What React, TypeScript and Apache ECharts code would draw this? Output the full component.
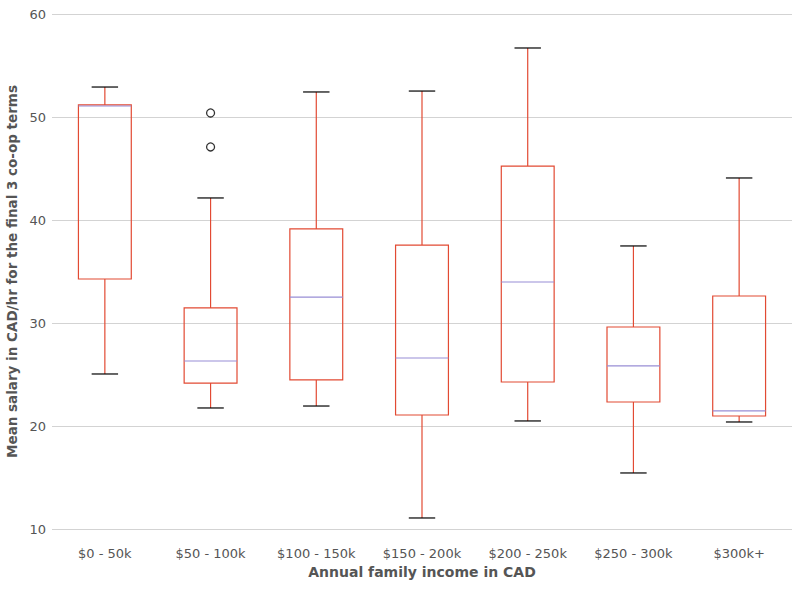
import React, { useEffect, useRef } from "react";
import * as echarts from "echarts";

const categories = ["$0 - 50k", "$50 - 100k", "$100 - 150k", "$150 - 200k", "$200 - 250k", "$250 - 300k", "$300k+"];
const lowerWhisker = [25.05, 21.75, 21.94, 11.07, 20.49, 15.44, 20.39];
const q1 = [34.27, 24.17, 24.47, 21.07, 24.27, 22.33, 20.97];
const median = [51.07, 26.31, 32.52, 26.6, 33.98, 25.83, 21.46];
const q3 = [51.17, 31.46, 39.13, 37.57, 45.24, 29.61, 32.62];
const upperWhisker = [52.91, 42.14, 52.43, 52.52, 56.7, 37.48, 44.08];
const outliers: [number, number][] = [
  [1, 50.39],
  [1, 47.09],
];
const yTicks = { min: 10, max: 60, interval: 10 };

export default function App() {
  const ref = useRef<HTMLDivElement>(null);
  useEffect(() => {
    if (!ref.current) return;
    const chart = echarts.init(ref.current, null, { renderer: "svg" });
    const boxData = categories.map((_, i) => [i, lowerWhisker[i], q1[i], median[i], q3[i], upperWhisker[i]]);
    const red = "#E24A33";
    chart.setOption({
      animation: false,
      grid: { left: 52, right: 11, top: 14, bottom: 60, outerBoundsMode: "none", containLabel: false },
      xAxis: {
        type: "category",
        data: categories,
        name: "Annual family income in CAD",
        nameLocation: "middle",
        nameGap: 43,
        nameTextStyle: { fontFamily: "DejaVu Sans", fontSize: 14, fontWeight: "bold", color: "#555555", verticalAlign: "middle" },
        axisLine: { show: false },
        axisTick: { show: false },
        axisLabel: { fontFamily: "DejaVu Sans", fontSize: 13, color: "#555555", margin: 18 },
        splitLine: { show: false },
      },
      yAxis: {
        type: "value",
        min: yTicks.min,
        max: yTicks.max,
        interval: yTicks.interval,
        name: "Mean salary in CAD/hr for the final 3 co-op terms",
        nameLocation: "middle",
        nameGap: 34,
        nameTextStyle: { fontFamily: "DejaVu Sans", fontSize: 13.5, fontWeight: "bold", color: "#555555", verticalAlign: "middle" },
        axisLine: { show: false },
        axisTick: { show: false },
        axisLabel: { fontFamily: "DejaVu Sans", fontSize: 13, color: "#555555", margin: 6 },
        splitLine: { show: true, lineStyle: { color: "#d3d3d3", width: 1 } },
      },
      series: [
        {
          type: "custom",
          data: boxData,
          encode: { x: 0, y: [1, 2, 3, 4, 5] },
          itemStyle: { color: red },
          renderItem: (params: any, api: any) => {
            const idx = api.value(0);
            const lw = api.coord([idx, api.value(1)]);
            const pq1 = api.coord([idx, api.value(2)]);
            const pm = api.coord([idx, api.value(3)]);
            const pq3 = api.coord([idx, api.value(4)]);
            const uw = api.coord([idx, api.value(5)]);
            const band = api.size([1, 0])[0];
            const bw = band * 0.5;
            const cw = bw * 0.5;
            const x = lw[0];
            const ls = (c: string) => ({ stroke: c, lineWidth: 1.2, fill: "none" });
            return {
              type: "group",
              children: [
                { type: "line", shape: { x1: x, y1: pq3[1], x2: x, y2: uw[1] }, style: ls(red) },
                { type: "line", shape: { x1: x, y1: pq1[1], x2: x, y2: lw[1] }, style: ls(red) },
                { type: "line", shape: { x1: x - cw / 2, y1: uw[1], x2: x + cw / 2, y2: uw[1] }, style: ls("#000000") },
                { type: "line", shape: { x1: x - cw / 2, y1: lw[1], x2: x + cw / 2, y2: lw[1] }, style: ls("#000000") },
                {
                  type: "rect",
                  shape: { x: x - bw / 2, y: pq3[1], width: bw, height: pq1[1] - pq3[1] },
                  style: ls(red),
                },
                { type: "line", shape: { x1: x - bw / 2, y1: pm[1], x2: x + bw / 2, y2: pm[1] }, style: ls("#988ED5") },
              ],
            };
          },
        },
        {
          type: "scatter",
          data: outliers,
          symbol: "circle",
          symbolSize: 8,
          itemStyle: { color: "rgba(0,0,0,0)", borderColor: "#000000", borderWidth: 1.3 },
        },
      ],
    });
    return () => chart.dispose();
  }, []);
  return <div ref={ref} style={{ width: 803, height: 589, position: "absolute", left: 0, top: 0 }} />;
}
